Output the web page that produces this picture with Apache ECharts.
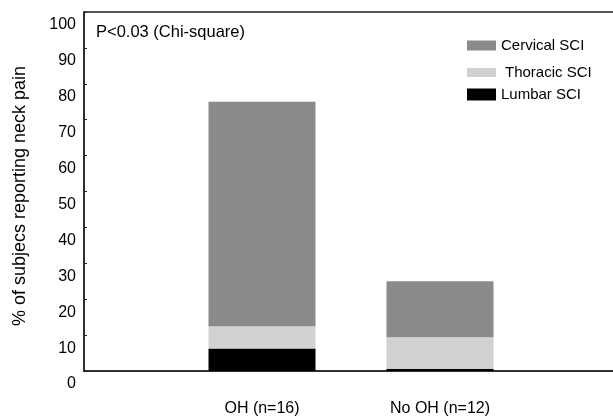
<!DOCTYPE html>
<html>
<head>
<meta charset="utf-8">
<script src="https://cdn.jsdelivr.net/npm/echarts@6/dist/echarts.min.js"></script>
<style>
html,body{margin:0;padding:0;background:#fff;}
#c{width:613px;height:418px;}
</style>
</head>
<body>
<div id="c"></div>
<script>
// Data
const categories = ['', 'OH (n=16)', 'No OH (n=12)', ''];
const lumbar = [null, 6.25, 0.6, null];
const thoracic = [null, 6.25, 8.8, null];
const cervical = [null, 62.5, 15.6, null];
const yTicks = [0, 10, 20, 30, 40, 50, 60, 70, 80, 90, 100];
const legendNames = ['Cervical SCI', 'Thoracic SCI', 'Lumbar SCI'];

const font = 'Liberation Sans, Arial, sans-serif';
const colCerv = '#8a8a8a', colThor = '#d2d2d2', colLumb = '#000';
const legText = {fontFamily: font, fontSize: 15, color: '#000'};
const chart = echarts.init(document.getElementById('c'), null, {renderer: 'canvas'});
chart.setOption({
  animation: false,
  backgroundColor: '#fff',
  grid: {left: 84, right: -5, top: 12, bottom: 47, outerBoundsMode: 'none', containLabel: false,
    show: true, borderColor: '#222', borderWidth: 1.5, backgroundColor: 'transparent'},
  legend: [
    {data: [legendNames[0]], left: 462, top: 33, itemWidth: 29, itemHeight: 10, icon: 'rect', textStyle: legText},
    {data: [legendNames[1]], left: 462, top: 60, itemWidth: 29, itemHeight: 9, icon: 'rect', textStyle: Object.assign({}, legText, {padding: [0, 0, 0, 4]})},
    {data: [legendNames[2]], left: 462, top: 82, itemWidth: 29, itemHeight: 12, icon: 'rect', textStyle: legText}
  ],
  graphic: [{
    type: 'text', left: 96, top: 24,
    style: {text: 'P<0.03 (Chi-square)', font: '16.5px ' + font, fill: '#000'}
  }],
  xAxis: {
    type: 'category', data: categories, boundaryGap: false,
    axisLine: {lineStyle: {color: '#222', width: 1.5}},
    axisTick: {show: false},
    axisLabel: {margin: 30, fontFamily: font, fontSize: 16, color: '#000', interval: 0},
    splitLine: {show: false}
  },
  yAxis: {
    type: 'value', min: 0, max: 100, interval: 10,
    name: '% of subjecs reporting neck pain', nameLocation: 'middle', nameGap: 55,
    nameTextStyle: {fontFamily: font, fontSize: 18, color: '#000', padding: [0, 9, 0, 0]},
    axisLine: {show: true, lineStyle: {color: '#222', width: 1.5}},
    axisTick: {show: true, inside: true, length: 3, lineStyle: {color: '#222'}},
    axisLabel: {margin: 8, fontFamily: font, fontSize: 16, color: '#000', verticalAlign: 'top', padding: [5, 0, 0, 0],
      formatter: v => yTicks.includes(v) ? String(v) : ''},
    splitLine: {show: false}
  },
  series: [
    {name: 'Lumbar SCI', type: 'bar', stack: 's', data: lumbar, barWidth: 107, itemStyle: {color: colLumb}},
    {name: 'Thoracic SCI', type: 'bar', stack: 's', data: thoracic, barWidth: 107, itemStyle: {color: colThor}},
    {name: 'Cervical SCI', type: 'bar', stack: 's', data: cervical, barWidth: 107, itemStyle: {color: colCerv}}
  ]
});
</script>
</body>
</html>
